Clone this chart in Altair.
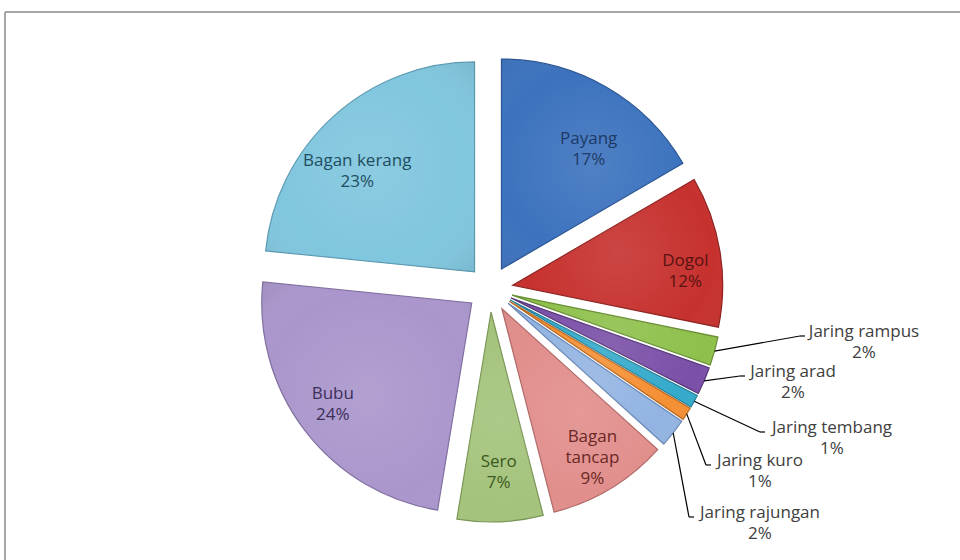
import altair as alt
import pandas as pd

# ---- data ----
names = ["Payang", "Dogol", "Jaring rampus", "Jaring arad", "Jaring tembang",
         "Jaring kuro", "Jaring rajungan", "Bagan tancap", "Sero", "Bubu", "Bagan kerang"]
values = [16.6, 11.6, 2.2, 2.1, 1.0, 1.0, 2.2, 9.3, 6.6, 24.0, 23.4]
display = ["Payang", "Dogol", "Jaring rampus", "Jaring arad", "Jaring tembang",
           "Jaring kuro", "Jaring rajungan", "Bagan|tancap", "Sero", "Bubu", "Bagan kerang"]
inside = [True, True, False, False, False, False, False, True, True, True, True]

# ---- styles ----
fills = ["#3C72BE", "#C6312E", "#8EC04B", "#7A4FA8", "#34AACB", "#F58F33",
         "#93B4E2", "#E18E8C", "#A4C37B", "#AA96CC", "#80C6DE"]
strokes = ["#2A5592", "#8E2220", "#688E34", "#573878", "#247E98", "#B8681F",
           "#6A89B6", "#B06866", "#7A9556", "#8070A0", "#5C9BB2"]
text_cols = ["#1E3A66", "#5A1212", "#404040", "#404040", "#404040", "#404040",
             "#404040", "#6A2826", "#3C5A1E", "#3C2E5A", "#1F4E60"]

# ---- callout label layout (label centre x, first-line y, leader end x) ----
callout_cx = [None, None, 864, 793, 832, 760, 760, None, None, None, None]
callout_cy = [None, None, 332, 372, 428, 461, 513, None, None, None, None]
callout_lx = [None, None, 806, 746, 766, 712, 695, None, None, None, None]

CX, CY, EXPLODE, R = 490, 289, 23, 210
LBL_RX, LBL_RY = 175, 150

df = pd.DataFrame({
    "name": names, "value": values, "display": display, "inside": inside,
    "order": list(range(len(names))),
    "tcol": text_cols,
    "ccx": callout_cx, "ccy": callout_cy, "clx": callout_lx,
})

base = alt.Chart(df).transform_joinaggregate(
    total="sum(value)"
).transform_window(
    cum="sum(value)", sort=[alt.SortField("order")], frame=[None, 0]
).transform_calculate(
    t1="2*PI*datum.cum/datum.total",
    t0="2*PI*(datum.cum-datum.value)/datum.total",
).transform_calculate(
    mid="(datum.t0+datum.t1)/2",
).transform_calculate(
    px=f"{CX}+{EXPLODE}*sin(datum.mid)",
    py=f"{CY}-{EXPLODE}*cos(datum.mid)",
).transform_calculate(
    lx=f"datum.px+{LBL_RX}*sin(datum.mid)",
    ly=f"datum.py-{LBL_RY}*cos(datum.mid)",
    ex=f"datum.px+{R}*sin(datum.mid)",
    ey=f"datum.py-{R}*cos(datum.mid)",
    pct="format(datum.value/datum.total, '.0%')",
).transform_calculate(
    label="datum.display + '|' + datum.pct",
)

color_fill = alt.Color("name:N", scale=alt.Scale(domain=names, range=fills), legend=None)
color_stroke = alt.Stroke("name:N", scale=alt.Scale(domain=names, range=strokes), legend=None)

arc_enc = dict(
    x=alt.X("px:Q", scale=None),
    y=alt.Y("py:Q", scale=None),
    theta=alt.Theta("t0:Q", scale=None),
    theta2=alt.Theta2("t1:Q"),
)

arcs = base.mark_arc(radius=R, strokeWidth=1.2).encode(
    color=color_fill, stroke=color_stroke, **arc_enc
)

shade = base.mark_arc(
    radius=R,
    fill=alt.RadialGradient(
        gradient="radial", x1=0.5, y1=0.5, r1=0, x2=0.5, y2=0.5, r2=0.75,
        stops=[
            alt.GradientStop(offset=0, color="rgba(255,255,255,0.10)"),
            alt.GradientStop(offset=0.6, color="rgba(255,255,255,0)"),
            alt.GradientStop(offset=1, color="rgba(0,0,0,0.10)"),
        ],
    ),
).encode(**arc_enc)

FONT = "Open Sans"
FS = 17
in_text = base.transform_filter("datum.inside").mark_text(
    font=FONT, fontSize=FS, lineBreak="|", lineHeight=21, align="center", baseline="middle"
).encode(
    x=alt.X("lx:Q", scale=None),
    y=alt.Y("ly:Q", scale=None),
    text="label:N",
    fill=alt.Fill("tcol:N", scale=None),
)

out = base.transform_filter("!datum.inside")

lead1 = out.transform_calculate(
    bx="datum.clx-6", by="datum.ccy+4"
).mark_rule(color="#000000", strokeWidth=1.2).encode(
    x=alt.X("ex:Q", scale=None), y=alt.Y("ey:Q", scale=None),
    x2="bx:Q", y2="by:Q",
)
lead2 = out.transform_calculate(
    bx="datum.clx-6", by="datum.ccy+4", bx2="datum.clx-1"
).mark_rule(color="#000000", strokeWidth=1.2).encode(
    x=alt.X("bx:Q", scale=None), y=alt.Y("by:Q", scale=None),
    x2="bx2:Q", y2="by:Q",
)
out_text = out.mark_text(
    font=FONT, fontSize=FS, lineBreak="|", lineHeight=21, align="center", baseline="middle",
    color="#404040"
).encode(
    x=alt.X("ccx:Q", scale=None),
    y=alt.Y("ccy:Q", scale=None),
    text="label:N",
)

frame_top = alt.Chart(df).mark_rule(color="#A6A6A6", strokeWidth=2).encode(
    x=alt.value(5), x2=alt.value(960), y=alt.value(12)
)
frame_left = alt.Chart(df).mark_rule(color="#A6A6A6", strokeWidth=2).encode(
    x=alt.value(5), y=alt.value(12), y2=alt.value(560)
)

chart = alt.layer(
    frame_top, frame_left, arcs, shade, in_text, lead1, lead2, out_text
).properties(
    width=960, height=560, autosize="none", padding=0, background="#FFFFFF"
).configure_view(strokeWidth=0)

chart.save("out.html", embed_options={"renderer": "svg", "actions": False})
